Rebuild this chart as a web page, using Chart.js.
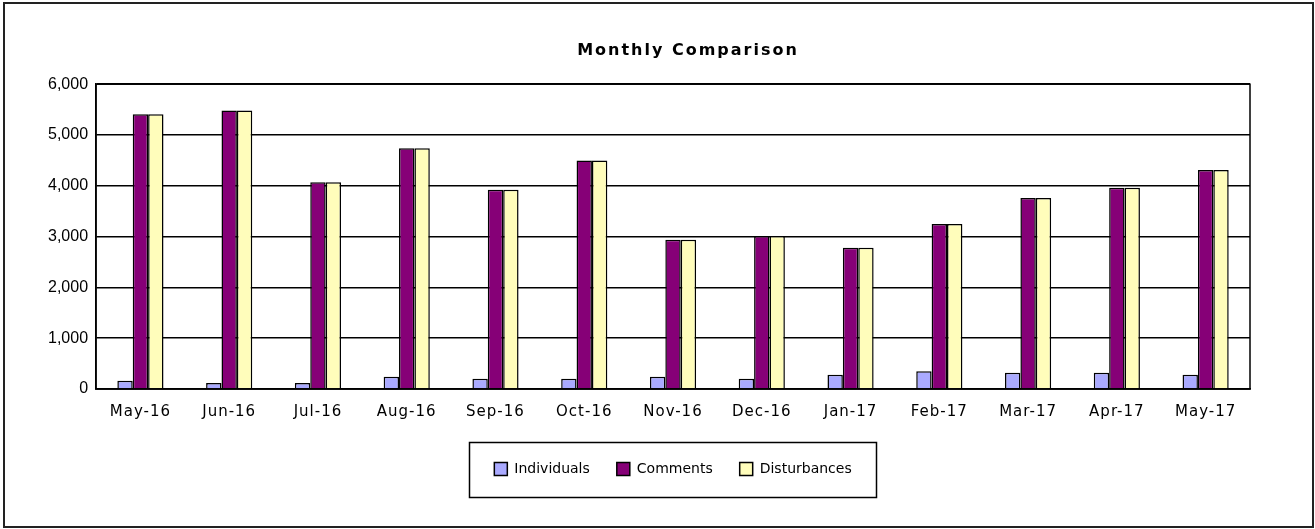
<!DOCTYPE html>
<html>
<head>
<meta charset="utf-8">
<script src="https://cdn.jsdelivr.net/npm/chart.js@4.4.1/dist/chart.umd.min.js"></script>
<style>
html,body{margin:0;padding:0;background:#fff;}
#wrap{width:1315px;height:529px;position:relative;}
</style>
</head>
<body>
<div id="wrap"><canvas id="c" width="1315" height="529"></canvas></div>
<script>
const categories = ['May-16','Jun-16','Jul-16','Aug-16','Sep-16','Oct-16','Nov-16','Dec-16','Jan-17','Feb-17','Mar-17','Apr-17','May-17'];
const individuals = [160,120,120,240,200,200,240,200,280,350,320,320,280];
const comments = [5410,5480,4070,4740,3920,4500,2940,3010,2780,3250,3760,3960,4310];
const disturbances = [5410,5480,4070,4740,3920,4500,2940,3010,2780,3250,3760,3960,4310];
const yTicks = [0,1000,2000,3000,4000,5000,6000];

const frame = {
  id:'frame',
  afterInit(chart){
    const tb = chart.titleBlock;
    if(tb){
      const orig = tb.draw.bind(tb);
      tb.draw = function(){ const ctx = chart.ctx; ctx.save(); ctx.letterSpacing='2px'; ctx.translate(15,0); orig(); ctx.restore(); };
    }
  },
  afterUpdate(chart){
    const sx = chart.scales.x;
    if(sx && !sx._lsWrapped){
      const o = sx.drawLabels.bind(sx);
      sx.drawLabels = function(a){ const ctx=chart.ctx; ctx.save(); ctx.letterSpacing='1px'; o(a); ctx.restore(); };
      sx._lsWrapped = true;
    }
  },
  beforeDraw(chart){
    const ctx = chart.ctx;
    ctx.save();
    ctx.fillStyle='#fff'; ctx.fillRect(0,0,chart.width,chart.height);
    ctx.strokeStyle='#222'; ctx.lineWidth=2;
    ctx.strokeRect(4,3,chart.width-6,chart.height-5);
    ctx.restore();
  },
  afterDatasetsDraw(chart){
    const a = chart.chartArea, ctx = chart.ctx;
    ctx.save(); ctx.strokeStyle='#000'; ctx.lineWidth=1.5;
    ctx.strokeRect(a.left,a.top,a.right-a.left,a.bottom-a.top);
    ctx.restore();
  },
  afterDraw(chart){
    const lg = chart.legend; if(!lg || !lg.legendHitBoxes) return;
    const hb = lg.legendHitBoxes;
    let x0=Infinity,x1=-Infinity,y0=Infinity,y1=-Infinity;
    hb.forEach(h=>{x0=Math.min(x0,h.left);x1=Math.max(x1,h.left+h.width);y0=Math.min(y0,h.top);y1=Math.max(y1,h.top+h.height);});
    const cy=(y0+y1)/2;
    const ctx=chart.ctx; ctx.save(); ctx.strokeStyle='#000'; ctx.lineWidth=1.5;
    ctx.strokeRect(Math.round(x0-25)+0.5,Math.round(cy-27.5)+0.5,Math.round(x1-x0+50),55);
    ctx.restore();
  }
};

const ds = (label,data,color)=>({label,data,backgroundColor:color,borderColor:'#000',borderWidth:1.5,categoryPercentage:0.52,barPercentage:1.0});

new Chart(document.getElementById('c'),{
  type:'bar',
  data:{labels:categories,datasets:[ds('Individuals',individuals,'#AAAAFF'),ds('Comments',comments,'#860077'),ds('Disturbances',disturbances,'#FFFDBB')]},
  options:{
    responsive:false,animation:false,
    layout:{padding:{left:40,right:65,top:41,bottom:43}},
    plugins:{
      title:{display:true,fullSize:false,text:'Monthly Comparison',color:'#000',font:{family:'DejaVu Sans',size:16,weight:'bold'},padding:{top:0,bottom:24}},
      legend:{position:'bottom',fullSize:false,labels:{color:'#000',font:{family:'DejaVu Sans',size:14},boxWidth:13,boxHeight:13,padding:27,
        generateLabels(chart){return chart.data.datasets.map((d,i)=>({text:d.label,fillStyle:d.backgroundColor,strokeStyle:'#000',lineWidth:1.5,datasetIndex:i,fontColor:'#000'}));}}},
      tooltip:{enabled:false}
    },
    scales:{
      x:{grid:{display:false,drawTicks:false},border:{display:true,color:'#000',width:1.5},
        ticks:{color:'#000',font:{family:'DejaVu Sans',size:15},padding:14,maxRotation:0,autoSkip:false}},
      y:{min:0,max:6000,afterBuildTicks(s){s.ticks=yTicks.map(v=>({value:v}));},
        grid:{color:'#000',lineWidth:1.5,drawTicks:false},border:{display:true,color:'#000',width:1.5},
        ticks:{color:'#000',font:{family:'Liberation Sans',size:16},padding:8,callback:v=>v.toLocaleString('en-US')}}
    }
  },
  plugins:[frame]
});
</script>
</body>
</html>
